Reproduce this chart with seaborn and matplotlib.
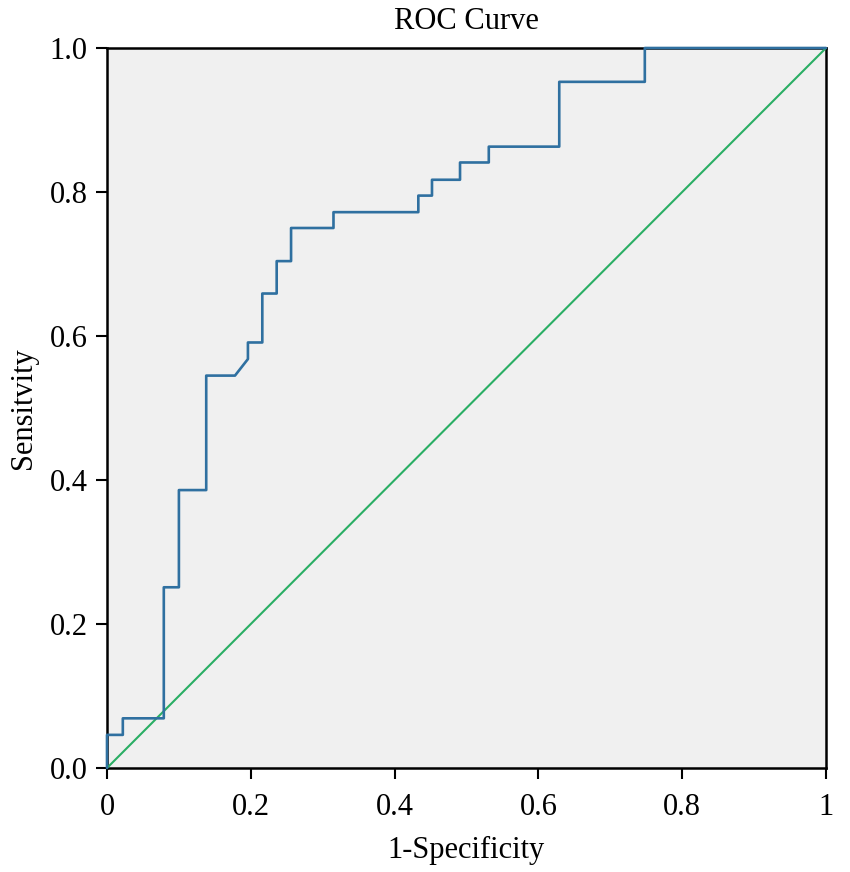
import pandas as pd
import matplotlib
matplotlib.use('Agg')
import matplotlib.pyplot as plt
import seaborn as sns

# ROC curve corners (1-specificity, sensitivity)
fpr = [0.0, 0.0, 0.022, 0.022, 0.079, 0.079, 0.100, 0.100, 0.138, 0.138,
       0.178, 0.196, 0.196, 0.216, 0.216, 0.236, 0.236, 0.256, 0.256, 0.315,
       0.315, 0.433, 0.433, 0.452, 0.452, 0.491, 0.491, 0.531, 0.531, 0.629,
       0.629, 0.748, 0.748, 1.0]
tpr = [0.0, 0.046, 0.046, 0.069, 0.069, 0.251, 0.251, 0.386, 0.386, 0.545,
       0.545, 0.568, 0.591, 0.591, 0.659, 0.659, 0.704, 0.704, 0.750, 0.750,
       0.772, 0.772, 0.795, 0.795, 0.817, 0.817, 0.841, 0.841, 0.863, 0.863,
       0.953, 0.953, 1.0, 1.0]
ref_x = [0.0, 1.0]
ref_y = [0.0, 1.0]

x_ticks = [0, 0.2, 0.4, 0.6, 0.8, 1]
x_labels = ['0', '0.2', '0.4', '0.6', '0.8', '1']
y_ticks = [0.0, 0.2, 0.4, 0.6, 0.8, 1.0]
y_labels = ['0.0', '0.2', '0.4', '0.6', '0.8', '1.0']

roc_df = pd.DataFrame({'fpr': fpr, 'tpr': tpr})
ref_df = pd.DataFrame({'x': ref_x, 'y': ref_y})

sns.set_style('ticks')
plt.rcParams['font.family'] = ['Liberation Serif', 'DejaVu Serif']
plt.rcParams['text.color'] = 'black'

fig = plt.figure(figsize=(8.5, 8.72), dpi=100)
ax = fig.add_axes([107 / 850, 1 - 768 / 872, 719 / 850, 720 / 872])
ax.set_facecolor('#f0f0f0')

sns.lineplot(data=ref_df, x='x', y='y', sort=False, estimator=None,
             color='#2aae64', linewidth=1.5, ax=ax)
sns.lineplot(data=roc_df, x='fpr', y='tpr', sort=False, estimator=None,
             color='#2f70a0', linewidth=1.9, ax=ax)
for ln in ax.lines:
    ln.set_clip_on(False)
    ln.set_zorder(3)

ax.set_xlim(0, 1)
ax.set_ylim(0, 1)
ax.set_xticks(x_ticks)
ax.set_xticklabels(x_labels)
ax.set_yticks(y_ticks)
ax.set_yticklabels(y_labels)
ax.tick_params(direction='out', length=8, width=1.5, labelsize=22, colors='black', pad=6)
ax.tick_params(axis='x', pad=10)
for sp in ax.spines.values():
    sp.set_color('black')
    sp.set_linewidth(1.8)
    sp.set_zorder(2)

ax.set_title('ROC Curve', fontsize=22, pad=14, color='black')
ax.set_xlabel('1-Specificity', fontsize=22, labelpad=10, color='black')
ax.set_ylabel('Sensitvity', fontsize=22, labelpad=8, color='black')

fig.savefig('out.png', dpi=100)
